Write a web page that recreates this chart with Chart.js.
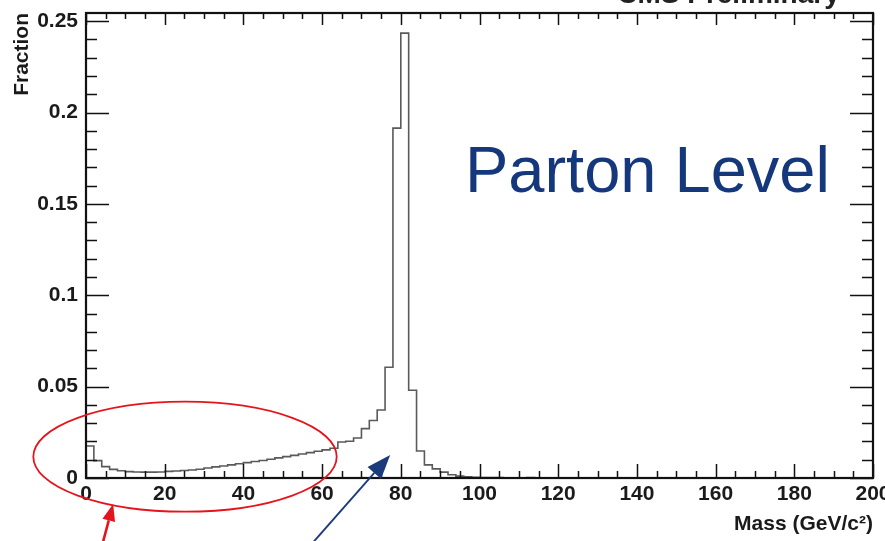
<!DOCTYPE html>
<html>
<head>
<meta charset="utf-8">
<script src="https://cdn.jsdelivr.net/npm/chart.js@4.4.1/dist/chart.umd.min.js"></script>
<style>
  html, body { margin: 0; padding: 0; background: #ffffff; }
  canvas { display: block; }
</style>
</head>
<body>
<canvas id="chart" width="885" height="541"></canvas>
<script>
// Lower edge of each 2 GeV mass bin (GeV/c^2)
const massLow = [
  0, 2, 4, 6, 8, 10, 12, 14, 16, 18,
  20, 22, 24, 26, 28, 30, 32, 34, 36, 38,
  40, 42, 44, 46, 48, 50, 52, 54, 56, 58,
  60, 62, 64, 66, 68, 70, 72, 74, 76, 78,
  80, 82, 84, 86, 88, 90, 92, 94, 96, 98,
  100, 102, 104, 106, 108, 110, 112, 114, 116, 118,
  120, 122, 124, 126, 128, 130, 132, 134, 136, 138,
  140, 142, 144, 146, 148, 150, 152, 154, 156, 158,
  160, 162, 164, 166, 168, 170, 172, 174, 176, 178,
  180, 182, 184, 186, 188, 190, 192, 194, 196, 198
];
const massHigh = 200;

// Fraction of events in each bin
const fraction = [
  0.0175, 0.0095, 0.0062, 0.0047, 0.0040, 0.0035, 0.0033, 0.0032, 0.0032, 0.0033,
  0.0036, 0.0038, 0.0041, 0.0044, 0.0048, 0.0055, 0.0061, 0.0066, 0.0072, 0.0078,
  0.0084, 0.0090, 0.0096, 0.0103, 0.0110, 0.0117, 0.0124, 0.0131, 0.0139, 0.0146,
  0.0154, 0.0163, 0.0197, 0.0201, 0.0219, 0.0270, 0.0315, 0.0372, 0.0606, 0.1915,
  0.2435, 0.0480, 0.0148, 0.0072, 0.0050, 0.0032, 0.0018, 0.0010, 0.0006, 0.0004,
  0.0003, 0.0002, 0.0002, 0.0001, 0.0001, 0.0001, 0.0003, 0.0001, 0.0001, 0.0000,
  0.0000, 0.0000, 0.0000, 0.0000, 0.0000, 0.0000, 0.0000, 0.0000, 0.0000, 0.0000,
  0.0000, 0.0000, 0.0000, 0.0000, 0.0000, 0.0000, 0.0000, 0.0000, 0.0000, 0.0000,
  0.0000, 0.0000, 0.0000, 0.0000, 0.0000, 0.0000, 0.0000, 0.0000, 0.0000, 0.0000,
  0.0000, 0.0000, 0.0000, 0.0000, 0.0000, 0.0000, 0.0000, 0.0000, 0.0000, 0.0000
];

// Axis ticks
const xTickValues = [0, 20, 40, 60, 80, 100, 120, 140, 160, 180, 200];
const xTickLabels = ['0', '20', '40', '60', '80', '100', '120', '140', '160', '180', '200'];
const yTickValues = [0, 0.05, 0.1, 0.15, 0.2, 0.25];
const yTickLabels = ['0', '0.05', '0.1', '0.15', '0.2', '0.25'];
const xMinorStep = 5;
const yMinorStep = 0.01;

// Axis ranges
const xRange = [0, 200];
const yRange = [0, 0.2545];

// Histogram outline: one point per lower bin edge, closed at the upper edge
const histPoints = massLow.map((m, i) => ({ x: m, y: fraction[i] }));
histPoints.push({ x: massHigh, y: fraction[fraction.length - 1] });

const labelFont = { family: "'Liberation Sans', Arial, Helvetica, sans-serif", size: 21, weight: 'bold' };
const inkColor = '#1a1a1a';

// Frame with inward ticks on all four sides
const framePlugin = {
  id: 'frame',
  afterDatasetsDraw(chart) {
    const { ctx, chartArea: a, scales: { x, y } } = chart;
    ctx.save();
    ctx.strokeStyle = '#111';
    ctx.lineWidth = 1.5;
    ctx.beginPath();
    const xMajor = 14, xMinor = 7, yMajor = 23, yMinor = 11;
    for (let v = xRange[0]; v <= xRange[1] + 1e-9; v += xMinorStep) {
      const px = Math.round(x.getPixelForValue(v)) + 0.5;
      const len = xTickValues.some(t => Math.abs(t - v) < 1e-9) ? xMajor : xMinor;
      ctx.moveTo(px, a.bottom); ctx.lineTo(px, a.bottom - len);
      ctx.moveTo(px, a.top); ctx.lineTo(px, a.top + len * 0.85);
    }
    for (let k = 0; k * yMinorStep <= yRange[1] + 1e-9; k++) {
      const v = k * yMinorStep;
      const py = Math.round(y.getPixelForValue(v)) + 0.5;
      const len = yTickValues.some(t => Math.abs(t - v) < 1e-9) ? yMajor : yMinor;
      ctx.moveTo(a.left, py); ctx.lineTo(a.left + len, py);
      ctx.moveTo(a.right, py); ctx.lineTo(a.right - len, py);
    }
    ctx.stroke();
    ctx.lineWidth = 2.2;
    ctx.strokeRect(a.left, a.top, a.right - a.left, a.bottom - a.top);
    ctx.restore();
  }
};

// Texts and hand-drawn highlights, positioned in axis units
const notes = {
  header: { text: 'CMS Preliminary', x: 135.0, y: 0.2601 },
  label: { text: 'Parton Level', x: 96.3, y: 0.1565 },
  ellipse: { cx: 25.16, cy: 0.01165, rx: 38.55, ry: 0.0301 },
  redArrow: { from: [4.2, -0.0360], to: [6.9, -0.0142] },
  blueArrow: { from: [57.4, -0.0360], to: [77.3, 0.0126] }
};

function drawArrow(ctx, x0, y0, x1, y1, color, width, headLen, headWidth) {
  const ang = Math.atan2(y1 - y0, x1 - x0);
  const bx = x1 - headLen * Math.cos(ang), by = y1 - headLen * Math.sin(ang);
  ctx.strokeStyle = color;
  ctx.fillStyle = color;
  ctx.lineWidth = width;
  ctx.beginPath();
  ctx.moveTo(x0, y0); ctx.lineTo(bx, by);
  ctx.stroke();
  ctx.beginPath();
  ctx.moveTo(x1, y1);
  ctx.lineTo(bx + headWidth / 2 * Math.sin(ang), by - headWidth / 2 * Math.cos(ang));
  ctx.lineTo(bx - headWidth / 2 * Math.sin(ang), by + headWidth / 2 * Math.cos(ang));
  ctx.closePath();
  ctx.fill();
}

const notesPlugin = {
  id: 'notes',
  afterDraw(chart) {
    const { ctx, scales: { x, y } } = chart;
    const X = v => x.getPixelForValue(v), Y = v => y.getPixelForValue(v);
    ctx.save();

    ctx.fillStyle = '#222';
    ctx.font = "bold 28px 'Liberation Sans', Arial, sans-serif";
    ctx.textAlign = 'left';
    ctx.textBaseline = 'alphabetic';
    ctx.fillText(notes.header.text, X(notes.header.x), Y(notes.header.y));

    ctx.fillStyle = '#14387b';
    ctx.font = "65px 'Liberation Sans', Arial, sans-serif";
    ctx.textAlign = 'left';
    ctx.fillText(notes.label.text, X(notes.label.x), Y(notes.label.y));

    const e = notes.ellipse;
    ctx.strokeStyle = '#e5141c';
    ctx.lineWidth = 1.8;
    ctx.beginPath();
    ctx.ellipse(X(e.cx), Y(e.cy), X(e.cx + e.rx) - X(e.cx), Y(e.cy) - Y(e.cy + e.ry), 0, 0, Math.PI * 2);
    ctx.stroke();

    const r = notes.redArrow;
    drawArrow(ctx, X(r.from[0]), Y(r.from[1]), X(r.to[0]), Y(r.to[1]), '#e5141c', 2.6, 17, 13);
    const b = notes.blueArrow;
    drawArrow(ctx, X(b.from[0]), Y(b.from[1]), X(b.to[0]), Y(b.to[1]), '#1b3a7c', 1.9, 24, 18);

    ctx.restore();
  }
};

new Chart(document.getElementById('chart'), {
  type: 'line',
  data: {
    datasets: [{
      data: histPoints,
      stepped: true,
      borderColor: '#5a5a5a',
      borderWidth: 1.6,
      pointRadius: 0,
      fill: false,
      tension: 0
    }]
  },
  options: {
    responsive: false,
    animation: false,
    devicePixelRatio: 1,
    layout: { padding: { top: 13, right: 12, left: 0, bottom: 0 } },
    plugins: { legend: { display: false }, tooltip: { enabled: false } },
    scales: {
      x: {
        type: 'linear',
        min: xRange[0],
        max: xRange[1],
        afterBuildTicks: s => { s.ticks = xTickValues.map(v => ({ value: v })); },
        ticks: {
          callback: (v, i) => xTickLabels[i],
          font: labelFont,
          color: inkColor,
          padding: 4,
          maxRotation: 0,
          autoSkip: false
        },
        grid: { display: false, drawTicks: false },
        border: { display: false },
        title: {
          display: true,
          text: 'Mass (GeV/c²)',
          align: 'end',
          color: inkColor,
          font: labelFont,
          padding: { top: 0, bottom: 4 }
        },
        afterFit: s => { s.height = 63; s.paddingLeft = 0; s.paddingRight = 0; }
      },
      y: {
        type: 'linear',
        min: yRange[0],
        max: yRange[1],
        afterBuildTicks: s => { s.ticks = yTickValues.map(v => ({ value: v })); },
        ticks: {
          callback: (v, i) => yTickLabels[i],
          font: labelFont,
          color: inkColor,
          padding: 8,
          autoSkip: false
        },
        grid: { display: false, drawTicks: false },
        border: { display: false },
        title: {
          display: true,
          text: 'Fraction',
          align: 'end',
          color: inkColor,
          font: labelFont,
          padding: { top: 10, bottom: 0 }
        },
        afterFit: s => { s.width = 86; s.paddingTop = 0; s.paddingBottom = 0; }
      }
    }
  },
  plugins: [framePlugin, notesPlugin]
});
</script>
</body>
</html>
